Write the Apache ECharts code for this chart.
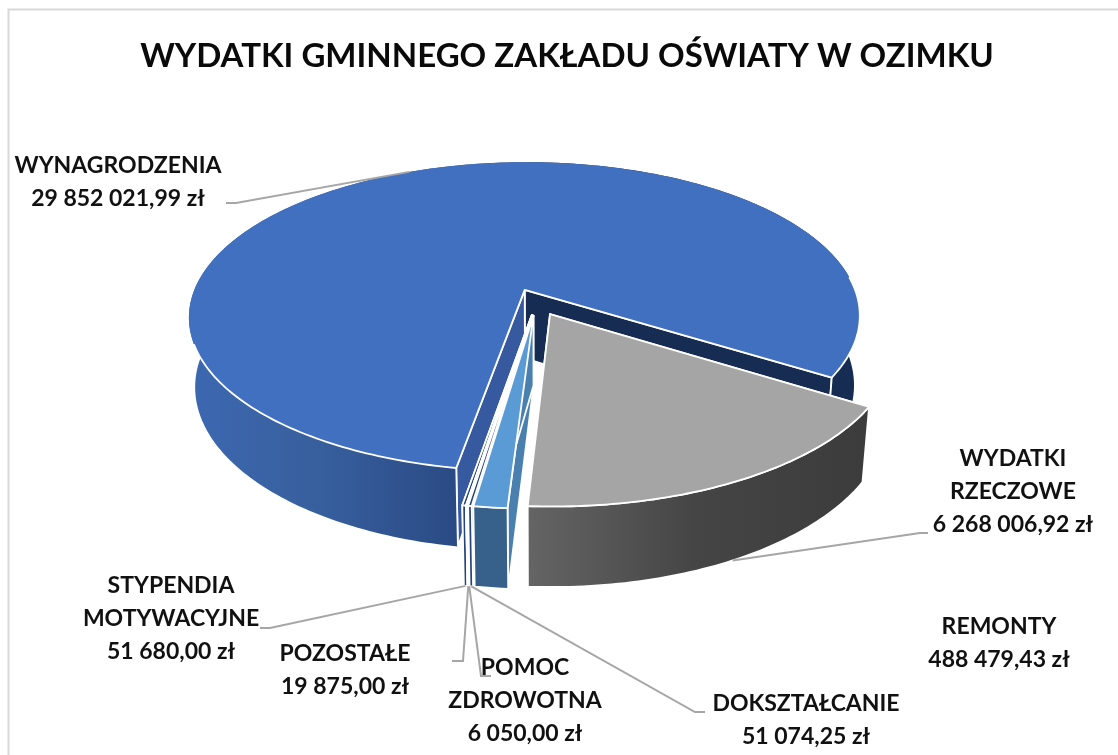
<!DOCTYPE html>
<html><head><meta charset="utf-8">
<style>html,body{margin:0;padding:0;background:#fff}#c{width:1118px;height:755px}</style>
<script src="https://cdn.jsdelivr.net/npm/echarts@6/dist/echarts.min.js"></script></head>
<body><div id="c"></div>
<script>
const titleText = 'WYDATKI GMINNEGO ZAKŁADU OŚWIATY W OZIMKU';
const categories = ['WYNAGRODZENIA','WYDATKI\nRZECZOWE','REMONTY','DOKSZTAŁCANIE','POMOC\nZDROWOTNA','POZOSTAŁE','STYPENDIA\nMOTYWACYJNE'];
const values = [29852021.99,6268006.92,488479.43,51074.25,6050,19875,51680];

// presentation only
const drawOrder = [0,1,6,5,4,3,2];
const topFill = ['#4270C0','#A5A5A5','#5B9BD5','#264478','#1F3864','#264478','#264478'];
const faceFill = ['#37599F','#7C7C7C','#4A80B0','#264478','#1F3864','#264478','#264478'];
const labelPos = [[118,182],[1013,492],[999,643],[806,720],[525,701],[345,670],[171,619]];
const leader = [
  {rim:0,elbow:[236,203],end:[226,203]},
  {rim:1,elbow:[920,533],end:[928,533]},
  null,
  {rim:1,elbow:[695,712],end:[705,712]},
  {rim:1,elbow:[481,676],end:[491,676]},
  {rim:1,elbow:[463,661],end:[452,661]},
  {rim:1,elbow:[270,628],end:[260,628]}
];
const startDeg = 189.55, cx = 536.5, cy = 302, R = 335, Rt = 154, k = 0.175, m = 0.018, h = 70.5, explode = 0.087;

const rad = d => d*Math.PI/180;
const total = values.reduce((a,b)=>a+b,0);
const spans = []; { let a = startDeg; values.forEach(v=>{ const e=a+v/total*360; spans.push([a,e]); a=e; }); }
function project(X,Y,H){ const D=1+k*Y+m*H; return [cx+R*X/D, cy+(-Rt*Y+h*H)/D]; }
function money(v){ const [i,d]=v.toFixed(2).split('.'); return i.replace(/\B(?=(\d{3})+$)/g,' ')+','+d+' zł'; }
function blueWall(){ return new echarts.graphic.LinearGradient(188,0,460,0,[{offset:0,color:'#3D68B1'},{offset:0.45,color:'#38609F'},{offset:1,color:'#2A4A84'}],true); }
function grayWall(){ return new echarts.graphic.LinearGradient(530,0,860,0,[{offset:0,color:'#646464'},{offset:0.5,color:'#454545'},{offset:1,color:'#3C3C3C'}],true); }
function arc(s,e){ const n=Math.max(2,Math.ceil((e-s)/1)),o=[]; for(let j=0;j<=n;j++) o.push(s+(e-s)*j/n); return o; }

function renderItem(params, api){
  const i = api.value(0);
  const [s,e] = spans[i], b=(s+e)/2;
  const ox = explode*Math.sin(rad(b)), oy = explode*Math.cos(rad(b));
  const rim=(t,H)=>project(ox+Math.sin(rad(t)),oy+Math.cos(rad(t)),H);
  const apex=H=>project(ox,oy,H);
  const stroke={stroke:'#fff',lineWidth:1.8,lineJoin:'round'};
  const poly=(pts,fill,st)=>({type:'polygon',shape:{points:pts},style:Object.assign({fill},st||stroke)});
  const wall=(a,c,fill,st)=>{const t=arc(a,c);return poly(t.map(x=>rim(x,0)).concat(t.slice().reverse().map(x=>rim(x,1))),fill,st);};
  const ch=[];
  const face=t=>poly([apex(0),rim(t,0),rim(t,1),apex(1)],faceFill[i]);
  if(i===0){
    ch.push(poly([apex(0),rim(e,0),rim(e,1),apex(1)],'#172C52'));
    ch.push(face(s));
    ch.push(wall(s,360,blueWall(),{stroke:null}));
    ch.push(wall(360,e,'#172C52',{stroke:null}));
  } else {
    ch.push(face(s));
    ch.push(face(e));
    ch.push(wall(s,e,i===1?grayWall():(i===2?'#37618A':faceFill[i])));
  }
  ch.push(poly([apex(0)].concat(arc(s,e).map(x=>rim(x,0))),topFill[i],
    i===0?{stroke:null}:stroke));
  if(i===0){
    ch.push({type:'polyline',shape:{points:arc(85,e-360).map(x=>rim(x,0)).concat([apex(0)]).concat(arc(s,250).map(x=>rim(x,0)))},style:Object.assign({fill:null},stroke)});
    ch.push({type:'polyline',shape:{points:[rim(e,0),rim(e,1)]},style:Object.assign({fill:null},stroke)});
    ch.push({type:'polyline',shape:{points:[rim(s,0),rim(s,1)]},style:Object.assign({fill:null},stroke)});
  }
  return {type:'group',children:ch};
}
function renderLabels(params, api){
  const i = api.value(0);
  const [s,e]=spans[i], b=(s+e)/2;
  const ox=explode*Math.sin(rad(b)), oy=explode*Math.cos(rad(b));
  const ch=[];
  const L=leader[i];
  if(L){
    const a=project(ox+Math.sin(rad(b)),oy+Math.cos(rad(b)),L.rim);
    ch.push({type:'polyline',shape:{points:[a,L.elbow,L.end]},style:{fill:null,stroke:'#A6A6A6',lineWidth:2}});
  }
  ch.push({type:'text',x:labelPos[i][0],y:labelPos[i][1],style:{
    text:categories[i]+'\n'+money(values[i]),
    font:'bold 23px Lato',lineHeight:33,fill:'#111',align:'center',verticalAlign:'middle'}});
  return {type:'group',children:ch};
}
const chart = echarts.init(document.getElementById('c'),null,{renderer:'canvas'});
const rows = drawOrder.map(i=>[i,values[i]]);
chart.setOption({
  animation:false,
  backgroundColor:'#fff',
  title:{text:titleText,left:562,top:35,textAlign:'center',textStyle:{fontFamily:'Lato',fontWeight:'bold',fontSize:33,color:'#0a0a0a'}},
  graphic:[{type:'polyline',shape:{points:[[8.5,755],[8.5,9.5],[1118,9.5]]},style:{fill:null,stroke:'#D9D9D9',lineWidth:2},silent:true}],
  series:[
    {type:'custom',coordinateSystem:'none',renderItem,data:rows,z:2,silent:true},
    {type:'custom',coordinateSystem:'none',renderItem:renderLabels,data:rows,z:3,silent:true}
  ]
});
</script></body></html>
